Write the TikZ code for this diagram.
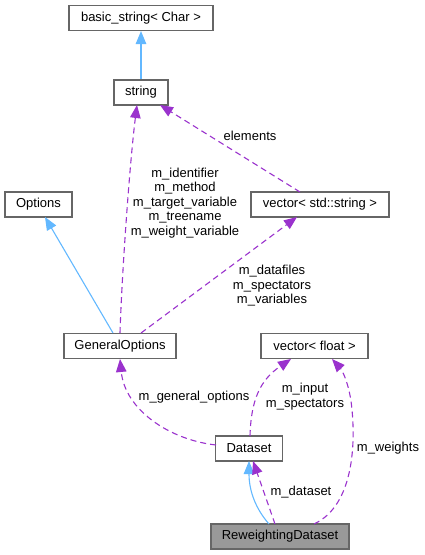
\documentclass[tikz,border=0pt]{standalone}
\usepackage{fontspec}
\setmainfont{Liberation Sans}
\usetikzlibrary{arrows.meta}
\definecolor{edgeblue}{HTML}{63B8FF}
\definecolor{edgepurple}{HTML}{9A32CD}
\definecolor{boxgray}{HTML}{666666}
\definecolor{fillgray}{HTML}{999999}
\begin{document}
\begin{tikzpicture}[x=1pt,y=-1pt,
  cls/.style={draw=boxgray,line width=1.1pt,fill=white,minimum height=25pt,inner sep=0pt,font=\fontsize{13}{14.5}\selectfont},
  lbl/.style={font=\fontsize{13}{14.5}\selectfont,align=center,inner sep=0pt},
  inh/.style={draw=edgeblue,line width=1.1pt,-{Triangle[length=13pt,width=10.5pt,fill=edgeblue]}},
  use/.style={draw=edgepurple,line width=1.1pt,dash pattern=on 6pt off 4pt,-{Triangle[length=13pt,width=10.5pt,fill=edgepurple]}}]
\useasboundingbox (0,0) rectangle (425,555);
\node[cls,minimum width=144pt] (bs) at (141,18) {basic\_string< Char >};
\node[cls,minimum width=54pt] (str) at (141,92.5) {string};
\node[cls,minimum width=67pt] (opt) at (38.5,204.5) {Options};
\node[cls,minimum width=138pt] (vss) at (320,204.5) {vector< std::string >};
\node[cls,minimum width=112pt] (go) at (120,346) {GeneralOptions};
\node[cls,minimum width=107pt] (vf) at (314.5,346) {vector< float >};
\node[cls,minimum width=67pt] (ds) at (249,448.5) {Dataset};
\node[cls,minimum width=138pt,fill=fillgray] (rw) at (280,536.5) {ReweightingDataset};
% edges
\draw[inh] (str.north) -- (bs.south);
\coordinate (goA) at (113,333);
\coordinate (optB) at (45,217);
\draw[inh] (goA) -- (optB);
\coordinate (goB) at (120,333);
\coordinate (strB) at (137,105);
\draw[use] (goB) .. controls (122,270) and (130,160) .. (strB);
\coordinate (goC) at (141,333);
\coordinate (vssB) at (297,217);
\draw[use] (goC) -- (vssB);
\coordinate (vssT) at (300,192);
\coordinate (strR) at (160,105);
\draw[use] (vssT) -- (strR);
\coordinate (dsL) at (216,445);
\coordinate (goBot) at (120,359);
\draw[use] (dsL) .. controls (170,440) and (125,410) .. (goBot);
\coordinate (dsT) at (250,436);
\coordinate (vfB) at (291,359);
\draw[use] (dsT) .. controls (251,400) and (260,380) .. (vfB);
\coordinate (rwT) at (314,524);
\coordinate (vfR) at (332,359);
\draw[use] (rwT) .. controls (355,505) and (355,440) .. (352,410) .. controls (350,385) and (342,370) .. (vfR);
\coordinate (rwA) at (269,524);
\coordinate (dsB) at (249,461);
\draw[inh] (rwA) .. controls (255,508) and (249,490) .. (dsB);
\coordinate (rwB) at (275,524);
\coordinate (dsB2) at (253,461);
\draw[use] (rwB) -- (dsB2);
% labels
\node[lbl] (l1) at (250,136) {elements};
\node[lbl] (l2) at (185,203) {m\_identifier\\m\_method\\m\_target\_variable\\m\_treename\\m\_weight\_variable};
\node[lbl] (l3) at (272,286) {m\_datafiles\\m\_spectators\\m\_variables};
\node[lbl] (l4) at (194,397) {m\_general\_options};
\node[lbl] (l5) at (305,396.5) {m\_input\\m\_spectators};
\node[lbl] (l6) at (388,448) {m\_weights};
\node[lbl] (l7) at (301,492) {m\_dataset};
\end{tikzpicture}
\end{document}
